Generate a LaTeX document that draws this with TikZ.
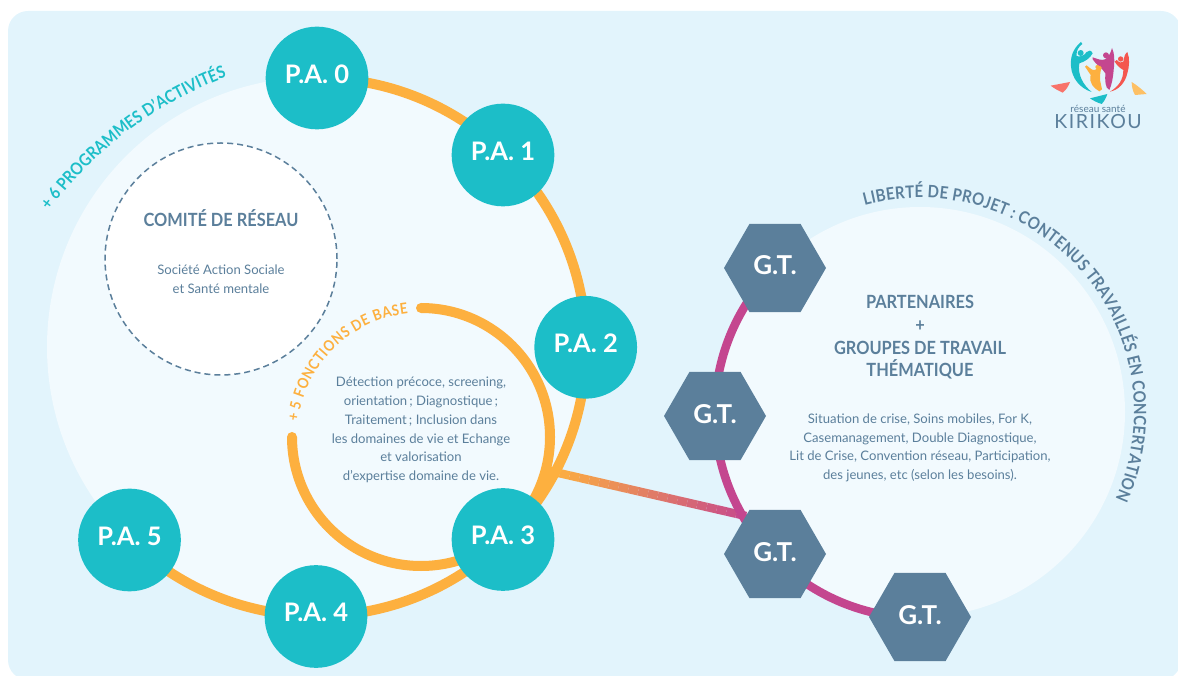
\documentclass[tikz,border=0pt]{standalone}
\usepackage{tikz}
\usepackage{fontspec}
\usepackage{xcolor}
\usetikzlibrary{shapes.geometric, decorations.text, backgrounds, calc}
\setmainfont{Lato}
\newfontfamily\condfont[FakeStretch=0.9]{Lato}
\newfontface\curvefont[FakeStretch=0.88]{Lato Bold}
\definecolor{panelblue}{HTML}{E2F4FC}
\definecolor{paleblue}{HTML}{F2FAFE}
\definecolor{tealpa}{HTML}{1CBEC8}
\definecolor{orangering}{HTML}{FDB03F}
\definecolor{magentagt}{HTML}{C4468F}
\definecolor{slategt}{HTML}{5B7F9B}
\definecolor{coralkiri}{HTML}{F4574F}
\definecolor{salmonkiri}{HTML}{F8736A}
\tikzset{
  panode/.style={circle, fill=tealpa, text=white, minimum size=102.7pt, inner sep=0pt, text depth=8pt, font=\fontsize{25.5}{28}\selectfont\bfseries},
  gtnode/.style={regular polygon, regular polygon sides=6, fill=slategt, text=white, minimum size=102pt, inner sep=0pt, text depth=5pt, font=\fontsize{26}{28}\selectfont\bfseries},
  headtext/.style={text=slategt, align=center, font=\fontsize{18.2}{22.7}\condfont\bfseries},
  bodytext/.style={text=slategt, align=center, font=\fontsize{13.1}{18.7}\selectfont},
  ringline/.style={draw=orangering, line width=10pt},
  curvetext/.style n args={3}{decorate, decoration={text along path, text align=fit to path, text={|\fontsize{#1}{#1}\curvefont\color{#2}|#3}}},
}
\begin{document}
\begin{tikzpicture}[x=1pt, y=1pt]
    \useasboundingbox (0,0) rectangle (1178,675);

    \node[panode] (pa0) at (317,597) {P.A. 0};
    \node[panode] (pa1) at (503,520) {P.A. 1};
    \node[panode] (pa2) at (585.7,327.7) {P.A. 2};
    \node[panode] (pa3) at (503,135.5) {P.A. 3};
    \node[panode] (pa4) at (316,58.5) {P.A. 4};
    \node[panode] (pa5) at (129.5,135) {P.A. 5};

    \node[gtnode] (gt0) at (775,407) {G.T.};
    \node[gtnode] (gt1) at (715,259) {G.T.};
    \node[gtnode] (gt2) at (775,121) {G.T.};
    \node[gtnode] (gt3) at (920,58) {G.T.};

    \node[headtext] (comitetitle) at (221,457) {COMITÉ DE RÉSEAU};
    \node[bodytext] (comitebody) at (221,396) {Société Action Sociale\\et Santé mentale};
    \node[bodytext] (basebody) at (421,245) {Détection précoce, screening,\\orientation\,; Diagnostique\,;\\Traitement\,; Inclusion dans\\les domaines de vie et Echange\\et valorisation\\d’expertise domaine de vie.};
    \node[headtext] (gttitle) at (920,337.5) {PARTENAIRES\\+\\GROUPES DE TRAVAIL\\THÉMATIQUE};
    \node[bodytext] (gtbody) at (920,227) {Situation de crise, Soins mobiles, For K,\\Casemanagement, Double Diagnostique,\\Lit de Crise, Convention réseau, Participation,\\des jeunes, etc (selon les besoins).};

    \path[curvetext={17}{tealpa}{+ 6 PROGRAMMES D’ACTIVITÉS}] (364,231) ++(143.5:392) arc[start angle=143.5, end angle=110.5, radius=392];
    \path[curvetext={15}{orangering}{+ 5 FONCTIONS DE BASE}] (421,238) ++(173:124) arc[start angle=173, end angle=96, radius=124];
    \path[curvetext={17}{slategt}{LIBERTÉ DE PROJET : CONTENUS TRAVAILLÉS EN CONCERTATION}] (920,263) ++(105:214) arc[start angle=105, end angle=-24, radius=214];

    \begin{scope}[shift={(1020,655)}, x=0.3333pt, y=-0.3333pt]
      \fill[tealpa] (183,66) .. controls (160,85) and (150,110) .. (153,140) .. controls (156,175) and (180,205) .. (215,216) .. controls (190,195) and (172,165) .. (178,130) .. controls (195,125) and (210,115) .. (218,100) .. controls (214,90) and (206,90) .. (200,96) .. controls (192,108) and (178,112) .. (170,108) .. controls (168,92) and (176,80) .. (187,72) -- cycle;
      \fill[tealpa] (182,99) circle (9);
      \fill[magentagt] (218,112) .. controls (235,118) and (245,122) .. (255,118) .. controls (265,112) and (272,100) .. (276,84) .. controls (284,100) and (284,125) .. (281,150) .. controls (279,175) and (275,195) .. (268,210) .. controls (255,205) and (255,180) .. (256,160) .. controls (248,145) and (228,135) .. (218,118) -- cycle;
      \fill[magentagt] (258,106) circle (9);
      \fill[orangering] (195,140) -- (200,136) .. controls (210,145) and (218,152) .. (225,150) .. controls (230,145) and (235,140) .. (240,137) -- (245,143) .. controls (240,155) and (240,170) .. (240,180) -- (246,208) -- (238,214) .. controls (222,205) and (206,190) .. (212,165) -- cycle;
      \fill[orangering] (232,141) circle (6);
      \fill[coralkiri] (270,215) .. controls (295,200) and (310,180) .. (310,150) .. controls (300,145) and (290,135) .. (284,125) -- (290,120) .. controls (298,128) and (305,130) .. (310,125) .. controls (312,110) and (316,100) .. (322,96) .. controls (330,115) and (328,140) .. (322,160) .. controls (315,190) and (295,210) .. (270,215) -- cycle;
      \fill[coralkiri] (302,117) circle (8);
      \fill[salmonkiri] (92,197) -- (150,186) .. controls (145,200) and (138,210) .. (128,218) .. controls (115,212) and (102,205) .. (92,197) -- cycle;
      \fill[tealpa] (210,235) -- (262,222) .. controls (258,235) and (252,245) .. (245,252) .. controls (232,248) and (220,242) .. (210,235) -- cycle;
      \fill[orangering!80] (335,186) .. controls (350,195) and (368,210) .. (380,222) -- (345,225) .. controls (338,212) and (335,200) .. (335,186) -- cycle;
    \end{scope}
    \node[text=slategt, font=\fontsize{10}{12}\selectfont] (logoline) at (1098,566) {réseau santé};
    \node[text=slategt, font=\fontsize{19.5}{20}\selectfont\addfontfeatures{LetterSpace=8}] (logoname) at (1098,553) {KIRIKOU};

    \begin{pgfonlayer}{background}
      \fill[panelblue, rounded corners=20pt] (8,-5) rectangle (1181,664);
      \node[circle, fill=paleblue, minimum size=540pt] (ringdisc) at (317,328) {};
      \node[circle, fill=paleblue, minimum size=410pt] (gtdisc) at (920,263) {};
      \node[circle, draw=slategt, dashed, dash pattern=on 6pt off 4pt, line width=1.5pt, fill=white, minimum size=232pt] (comite) at (221,416) {};
      \coordinate (gradstart) at (550,204);
      \coordinate (gradend) at (746,159);
      \foreach \i [evaluate=\i as \j using \i+1, evaluate=\i as \mixval using 100-\i*5] in {0,...,19}
        \draw[orangering!\mixval!magentagt, line width=8.5pt] ($(gradstart)!\i/20!(gradend)$) -- ($(gradstart)!\j/20!(gradend)$);
      \draw[ringline] (pa0.center) arc[start angle=90, end angle=-135, radius=269];
      \draw[ringline, line cap=round] (421,367) arc[start angle=90, end angle=-180, radius=129];
      \draw[magentagt, line width=8.5pt] (gt0.center) arc[start angle=135, end angle=270, radius=205];
    \end{pgfonlayer}
\end{tikzpicture}
\end{document}
